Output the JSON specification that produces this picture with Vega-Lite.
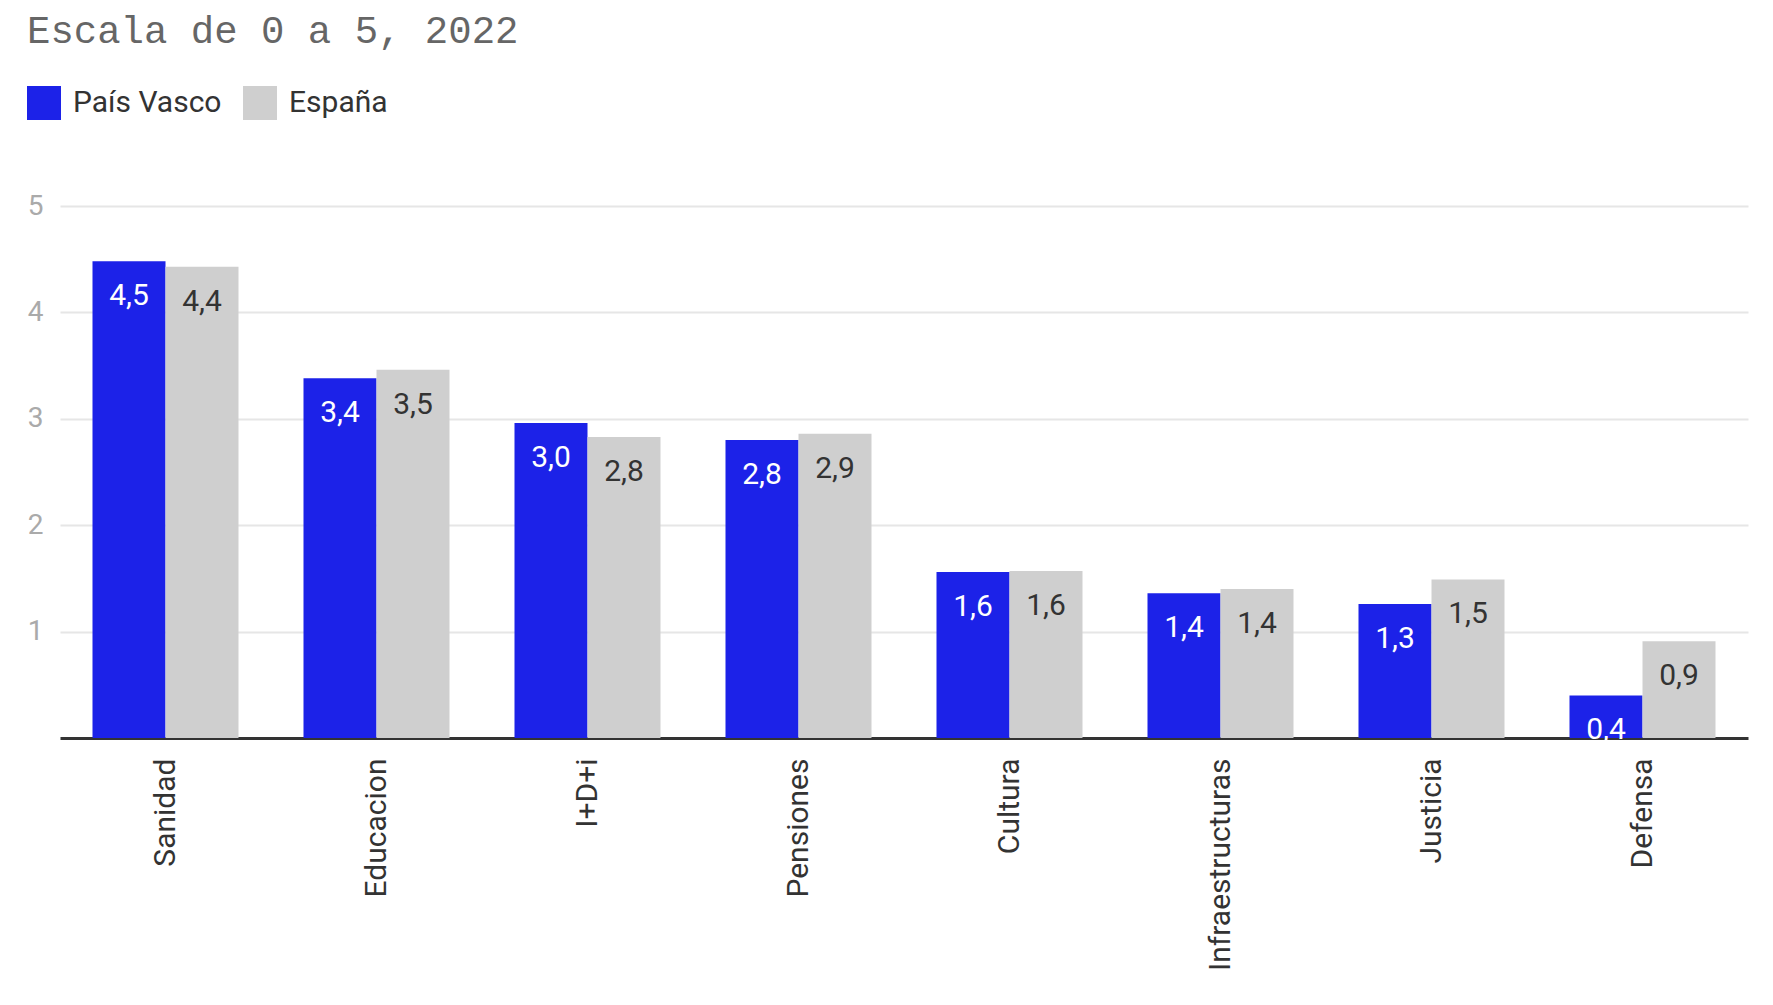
{
  "$schema": "https://vega.github.io/schema/vega-lite/v6.json",
  "width": 1688,
  "height": 532,
  "autosize": {"type": "none"},
  "padding": {"left": 60, "top": 206, "right": 25, "bottom": 267},
  "background": "white",
  "title": {
    "text": "Escala de 0 a 5, 2022",
    "anchor": "start",
    "frame": "group",
    "font": "Liberation Mono",
    "fontSize": 39,
    "fontWeight": "normal",
    "color": "#666666",
    "dx": -33,
    "offset": 35
  },
  "data": {
    "values": [
      {"area": "Sanidad", "serie": "País Vasco", "valor": 4.48},
      {"area": "Sanidad", "serie": "España", "valor": 4.43},
      {"area": "Educacion", "serie": "País Vasco", "valor": 3.38},
      {"area": "Educacion", "serie": "España", "valor": 3.46},
      {"area": "I+D+i", "serie": "País Vasco", "valor": 2.96},
      {"area": "I+D+i", "serie": "España", "valor": 2.83},
      {"area": "Pensiones", "serie": "País Vasco", "valor": 2.8},
      {"area": "Pensiones", "serie": "España", "valor": 2.86},
      {"area": "Cultura", "serie": "País Vasco", "valor": 1.56},
      {"area": "Cultura", "serie": "España", "valor": 1.57},
      {"area": "Infraestructuras", "serie": "País Vasco", "valor": 1.36},
      {"area": "Infraestructuras", "serie": "España", "valor": 1.4},
      {"area": "Justicia", "serie": "País Vasco", "valor": 1.26},
      {"area": "Justicia", "serie": "España", "valor": 1.49},
      {"area": "Defensa", "serie": "País Vasco", "valor": 0.4},
      {"area": "Defensa", "serie": "España", "valor": 0.91}
    ]
  },
  "encoding": {
    "x": {
      "field": "area",
      "type": "nominal",
      "sort": null,
      "scale": {"paddingInner": 0.308, "paddingOuter": 0.154},
      "axis": {
        "title": null,
        "labelAngle": -90,
        "labelAlign": "right",
        "labelBaseline": "middle",
        "labelFont": "Roboto",
        "labelFontSize": 30,
        "labelColor": "#333333",
        "labelPadding": 20,
        "labelLimit": 0,
        "ticks": false,
        "domainColor": "#333333",
        "domainWidth": 3,
        "grid": false
      }
    },
    "xOffset": {
      "field": "serie",
      "type": "nominal",
      "sort": ["País Vasco", "España"],
      "scale": {"domain": ["País Vasco", "España"], "paddingInner": 0, "paddingOuter": 0}
    },
    "y": {
      "field": "valor",
      "type": "quantitative",
      "scale": {"domain": [0, 5], "nice": false},
      "axis": {
        "title": null,
        "values": [1, 2, 3, 4, 5],
        "labelFont": "Roboto",
        "labelFontSize": 28,
        "labelColor": "#aaaaaa",
        "labelPadding": 17,
        "ticks": false,
        "domain": false,
        "gridColor": "#e6e6e6",
        "gridWidth": 2
      }
    }
  },
  "layer": [
    {
      "mark": {"type": "bar", "opacity": 1},
      "encoding": {
        "color": {
          "field": "serie",
          "type": "nominal",
          "sort": ["País Vasco", "España"],
          "scale": {"domain": ["País Vasco", "España"], "range": ["#1c22e8", "#cfcfcf"]},
          "legend": {
            "title": null,
            "orient": "none",
            "legendX": -33,
            "legendY": -120,
            "direction": "horizontal",
            "symbolType": "square",
            "symbolSize": 1156,
            "symbolStrokeWidth": 0,
            "symbolOpacity": 1,
            "labelFont": "Roboto",
            "labelFontSize": 30,
            "labelColor": "#333333",
            "labelOffset": 12,
            "columnPadding": 21,
            "padding": 0
          }
        }
      }
    },
    {
      "mark": {
        "type": "text",
        "font": "Roboto",
        "fontSize": 30,
        "baseline": "middle",
        "align": "center",
        "dy": 35
      },
      "encoding": {
        "text": {"field": "valor", "type": "quantitative", "format": ".1f"},
        "color": {
          "condition": {"test": "datum.serie === 'País Vasco'", "value": "#ffffff"},
          "value": "#333333"
        }
      }
    }
  ],
  "config": {
    "view": {"stroke": null},
    "locale": {
      "number": {
        "decimal": ",",
        "thousands": ".",
        "grouping": [3],
        "currency": ["", " €"]
      }
    }
  }
}
